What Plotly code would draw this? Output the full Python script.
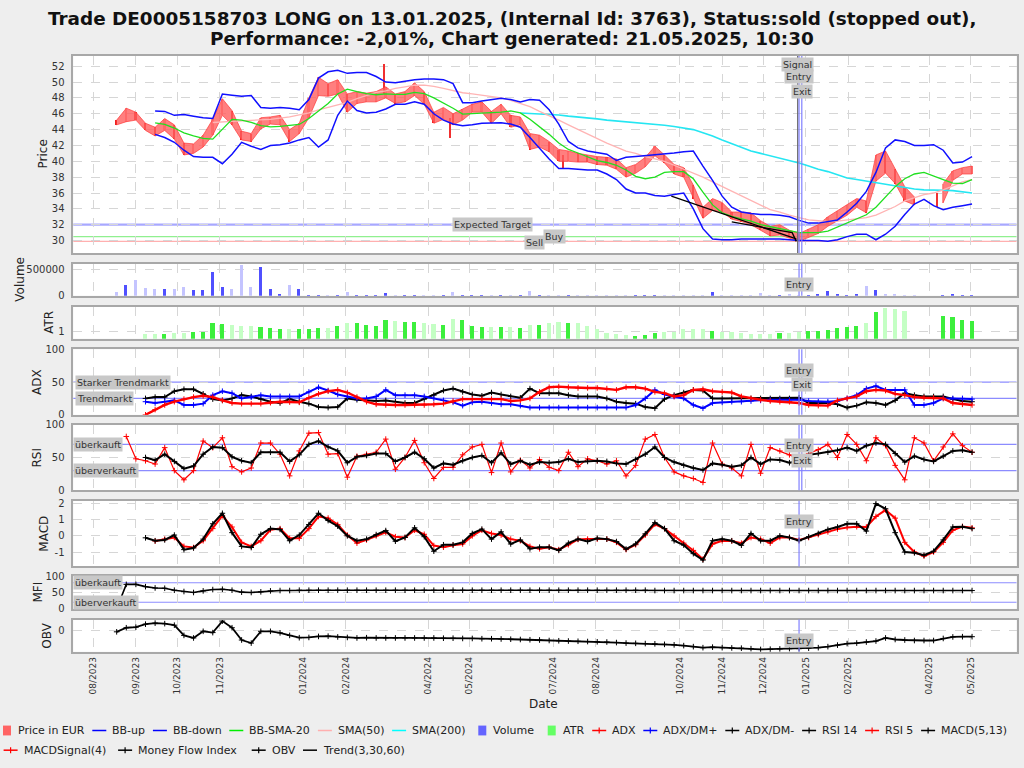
import plotly.graph_objects as go
import pandas as pd

# ------------------------------------------------------------------ data
# weekly samples (Fridays)
weeks = pd.date_range("2023-08-18", periods=90, freq="7D")

price_close = [
    44.9, 46.0, 45.5, 44.3, 43.8, 44.5, 43.5, 41.2, 41.7, 43.0,
    44.2, 47.3, 45.2, 43.2, 42.9, 45.0, 45.3, 45.3, 43.0, 44.3,
    47.5, 49.5, 49.0, 49.2, 47.0, 48.0, 48.0, 48.2, 48.8, 47.8,
    48.2, 49.2, 47.8, 45.5, 46.0, 45.0, 46.0, 46.7, 46.9, 45.6,
    46.7, 45.0, 45.2, 42.0, 42.6, 41.7, 40.5, 40.7, 40.4, 40.3,
    40.1, 40.0, 39.8, 38.6, 39.0, 39.8, 41.2, 40.3, 39.0, 38.6,
    36.0, 33.5, 34.6, 34.2, 33.2, 33.0, 32.7, 31.8, 31.2, 31.3,
    30.8, 30.4, 31.0, 31.5, 32.4, 33.2, 33.8, 34.8, 34.3, 39.8,
    39.5, 38.0, 35.8, 35.0, None, None, 36.5, 38.3, 38.8, 38.8]
price_lo = [
    44.6, 45.0, 45.2, 43.9, 43.2, 43.9, 42.8, 40.8, 41.0, 41.8,
    43.3, 45.8, 44.6, 42.7, 42.5, 44.1, 44.7, 44.6, 42.5, 43.5,
    45.5, 48.3, 48.2, 48.5, 46.2, 47.3, 47.5, 47.5, 48.0, 47.3,
    47.5, 48.3, 47.2, 44.8, 45.3, 44.6, 45.2, 46.2, 46.2, 44.8,
    46.0, 44.3, 44.6, 41.5, 41.8, 41.2, 40.0, 40.0, 39.9, 39.9,
    39.6, 39.5, 39.0, 38.0, 38.5, 39.3, 40.7, 39.8, 38.4, 38.0,
    35.3, 32.8, 33.8, 33.6, 32.7, 32.4, 32.0, 31.3, 30.6, 30.7,
    30.3, 29.9, 30.4, 30.9, 31.8, 32.5, 33.2, 34.2, 33.5, 37.5,
    38.5, 37.2, 35.0, 34.5, None, None, 34.8, 37.6, 38.4, 38.4]
price_hi = [
    45.2, 46.7, 46.2, 44.8, 44.3, 45.4, 44.6, 42.3, 42.2, 43.3,
    45.3, 47.9, 46.4, 43.8, 43.5, 45.5, 45.6, 45.8, 44.0, 44.8,
    48.0, 50.6, 49.8, 50.3, 48.5, 48.8, 48.6, 48.8, 49.4, 48.5,
    48.8, 49.9, 48.8, 46.2, 46.8, 46.0, 46.6, 47.2, 47.5, 46.3,
    47.2, 45.8, 45.6, 43.5, 43.3, 42.5, 41.5, 41.3, 41.0, 40.8,
    40.6, 40.5, 40.3, 39.2, 39.6, 40.5, 41.9, 40.8, 39.6, 39.2,
    37.0, 34.2, 35.3, 34.8, 33.6, 33.6, 33.5, 32.5, 31.8, 32.0,
    31.3, 30.9, 31.5, 32.0, 33.0, 33.8, 34.5, 35.3, 35.0, 40.8,
    41.3, 39.0, 36.8, 35.5, None, None, 37.2, 38.8, 39.2, 39.4]
# single-day wicks that stick out of the weekly range
spike_dates = ["2024-02-29", "2024-04-17", "2024-07-08", "2025-04-07"]
spike_lo = [48.5, 42.9, 39.0, 34.2]
spike_hi = [52.3, 45.5, 40.8, 36.0]

bb_up = [
    None, None, None, None, 46.35, 46.3, 45.8, 45.9, 45.7, 45.5,
    45.4, 48.5, 48.35, 48.2, 48.3, 46.8, 46.7, 46.8, 46.7, 46.5,
    47.8, 50.5, 51.3, 51.5, 51.1, 51.2, 51.2, 50.7, 50.0, 49.9,
    50.1, 50.3, 50.4, 50.4, 50.3, 49.8, 47.4, 47.4, 47.6, 47.8,
    47.95, 47.8, 47.5, 47.8, 47.7, 46.5, 44.7, 42.5, 41.7, 41.3,
    41.1, 40.9, 40.1, 40.5, 40.6, 40.7, 40.8, 40.9, 41.05, 41.2,
    41.3, 39.4, 37.6, 35.6, 34.2, 33.6, 33.4, 33.3, 33.3, 33.2,
    33.0, 32.55, 32.2, 32.2, 32.4, 32.6, 33.6, 34.7, 36.2, 38.6,
    41.7, 42.7, 42.5, 42.0, 42.0, 42.1, 41.4, 39.8, 39.9, 40.6]
bb_down = [
    None, None, None, None, 43.4, 43.0, 42.4, 41.4, 40.6, 40.5,
    40.5, 39.7, 40.9, 42.4, 41.9, 41.5, 42.0, 42.1, 42.3, 42.7,
    43.0, 41.8, 42.7, 45.8, 47.6, 46.4, 46.1, 46.2, 46.6, 47.2,
    47.2, 47.5, 47.2, 46.0, 45.2, 44.7, 44.5, 44.6, 44.8, 44.85,
    44.85, 44.7, 44.3, 43.0, 41.6, 40.3, 39.1, 39.1, 39.0, 38.9,
    38.9, 38.4, 37.7, 36.5, 36.0, 36.0, 35.7, 35.6, 35.8, 36.0,
    34.0, 31.5, 30.2, 30.1, 30.1, 30.2, 30.2, 30.2, 30.2, 30.2,
    30.1, 30.0, 30.0, 30.0, 29.9, 30.1, 30.5, 30.8, 30.8, 30.1,
    30.8, 31.8, 33.3, 34.6, 35.2, 34.4, 33.9, 34.2, 34.4, 34.6]
bb_mid = [
    None, None, None, None, 44.85, 44.65, 44.2, 43.6, 43.2, 42.9,
    42.8, 44.0, 45.3, 45.2, 44.9, 44.5, 44.35, 44.4, 44.5, 44.65,
    45.4, 46.3, 47.3, 48.5, 49.1, 48.8, 48.55, 48.4, 48.5, 48.45,
    48.45, 48.7, 48.55, 48.0, 47.4, 46.7, 45.95, 46.0, 46.1, 46.1,
    46.2, 46.35, 46.1, 45.3, 44.4, 43.4, 42.3, 41.5, 41.05, 40.6,
    40.1, 39.85, 39.5, 38.9, 38.1, 37.8, 38.0, 38.6, 38.7, 38.7,
    37.8, 36.1, 34.5, 33.5, 33.05, 32.75, 32.45, 32.0, 31.75, 31.5,
    31.2, 31.0, 31.0, 31.0, 31.2, 31.7, 32.2, 32.7, 33.25, 34.2,
    35.5, 36.8, 37.8, 38.4, 38.6, 38.2, 37.7, 37.25, 37.2, 37.7]
sma50 = [
    None, None, None, None, None, None, None, None, None, None,
    44.9, 45.0, 45.05, 45.1, 45.15, 45.2, 45.3, 45.45, 45.6, 45.85,
    46.1, 46.5, 46.8, 47.1, 47.45, 47.9, 48.3, 48.7, 48.9, 49.2,
    49.4, 49.6, 49.6, 49.45, 49.2, 48.9, 48.65, 48.5, 48.35, 48.15,
    48.0, 47.7, 47.3, 46.9, 46.3, 45.8, 45.2, 44.6, 44.0, 43.4,
    42.8, 42.3, 41.8, 41.3, 41.0, 40.6, 40.3, 40.0, 39.5, 39.0,
    38.6, 38.0, 37.4, 36.8, 36.2, 35.6, 35.1, 34.4, 33.9, 33.6,
    33.2, 32.9, 32.6, 32.5, 32.4, 32.45, 32.6, 32.75, 32.9, 33.2,
    33.7, 34.3, 35.0, 35.4, 35.8, 36.0, 36.4, 36.9, 37.4, 37.7]
sma200 = [None] * 42 + [
    46.1, 46.05, 46.0, 45.95, 45.85, 45.7, 45.6, 45.5,
    45.35, 45.2, 45.1, 45.0, 44.9, 44.8, 44.7, 44.55, 44.4, 44.2,
    44.0, 43.6, 43.2, 42.7, 42.2, 41.7, 41.3, 41.0, 40.7, 40.4,
    40.15, 39.8, 39.4, 39.0, 38.7, 38.3, 37.9, 37.7, 37.5, 37.3,
    37.1, 36.9, 36.7, 36.5, 36.4, 36.4, 36.35, 36.3, 36.15, 36.0]

trend_a_dates = ["2024-09-25", "2024-12-25"]
trend_a_vals = [35.6, 30.2]
trend_b_dates = ["2024-11-08", "2024-12-22", "2024-12-25"]
trend_b_vals = [32.35, 31.0, 29.9]

volume = [
    81000, 220000, 300000, 150000, 144000, 144000, 140000, 175000, 125000, 125000,
    456000, 175000, 130000, 600000, 175000, 562000, 130000, 37000, 206000, 144000,
    25000, 25000, 20000, 22000, 81000, 20000, 18000, 18000, 62000, 18000,
    15000, 20000, 20000, 18000, 20000, 81000, 20000, 18000, 20000, 18000,
    15000, 18000, 20000, 100000, 20000, 18000, 22000, 15000, 18000, 20000,
    15000, 18000, 22000, 20000, 15000, 18000, 25000, 20000, 18000, 20000,
    22000, 25000, 81000, 30000, 25000, 22000, 28000, 60000, 25000, 20000,
    35000, 30000, 25000, 40000, 100000, 35000, 30000, 45000, 194000, 112000,
    40000, 35000, 30000, 28000, None, None, 25000, 37000, 20000, 30000]
atr = [
    None, None, None, 0.89, 0.89, 0.91, 0.93, 0.93, 0.98, 0.98,
    1.32, 1.28, 1.25, 1.2, 1.18, 1.16, 1.13, 1.1, 1.07, 1.07,
    1.1, 1.12, 1.12, 1.2, 1.32, 1.3, 1.22, 1.2, 1.41, 1.38,
    1.34, 1.34, 1.32, 1.26, 1.25, 1.44, 1.4, 1.2, 1.17, 1.16,
    1.17, 1.15, 1.13, 1.23, 1.23, 1.3, 1.33, 1.32, 1.3, 1.2,
    1.1, 0.92, 0.88, 0.86, 0.82, 0.85, 0.95, 0.96, 0.98, 1.1,
    1.1, 1.1, 1.02, 0.98, 0.96, 0.92, 0.9, 0.9, 0.9, 0.94,
    0.95, 0.98, 1.01, 1.02, 1.04, 1.12, 1.16, 1.2, 1.3, 1.7,
    1.85, 1.82, 1.75, None, None, None, 1.56, 1.52, 1.42, 1.38]

adx = [
    None, None, None, 0, 8, 15, 20, 24, 27, 29,
    27, 22, 18, 17, 17, 17, 18.5, 20, 19.5, 19,
    26, 32, 36, 38, 34, 27, 20, 16, 15, 15,
    15, 15, 15, 16, 17, 21, 24, 24, 24, 24,
    24, 21, 22, 25, 35, 42, 43, 42, 41, 41,
    41, 40, 38, 42, 42, 40, 35, 33, 28, 30,
    38, 39, 36, 35, 34, 28, 25, 23, 21, 20,
    20, 18, 15, 14, 14, 22, 25, 28, 36, 38,
    37, 32, 30, 27, 26, 26, 25, 18, 16, 15]
dm_plus = [
    None, None, None, 20, 18, 20, 22, 15, 15, 17,
    30, 36, 33, 25, 27, 30, 28, 28, 28, 28,
    35, 42, 37, 31, 28, 25, 25, 28, 38, 30,
    30, 30, 28, 25, 22, 19, 14, 19, 20, 18,
    16, 16, 14, 11, 11, 11, 11, 11, 11, 11,
    11, 11, 11, 11, 15, 25, 38, 31, 28, 25,
    15, 10, 18, 19, 20, 20, 21, 22, 23, 23,
    23, 23, 21, 20, 20, 21, 25, 30, 40, 44,
    38, 38, 38, 15, 15, 18, 25, 25, 25, 24]
dm_minus = [
    None, None, None, 25, 27, 27, 36, 39, 39, 32,
    24, 22, 25, 30, 28, 24, 20, 18, 24, 20,
    17, 12, 11, 12, 25, 23, 22, 21, 22, 20,
    18, 18, 24, 30, 37, 40, 35, 31, 29, 34,
    31, 28, 26, 40, 33, 33, 33, 30, 28, 28,
    28, 25, 20, 18, 17, 12, 10, 24, 30, 34,
    38, 37, 25, 25, 25, 25, 25, 25, 25, 25,
    25, 26, 18, 18, 18, 16, 11, 14, 19, 18,
    15, 22, 33, 30, 28, 28, 28, 24, 21, 20]

rsi5 = [
    None, 82, 48, 45, 40, 65, 30, 16, 30, 75,
    65, 80, 36, 28, 34, 72, 72, 55, 22, 60,
    87, 88, 55, 56, 20, 52, 55, 58, 78, 32,
    50, 76, 42, 18, 35, 35, 54, 66, 70, 27,
    72, 28, 46, 34, 47, 35, 30, 58, 36, 48,
    45, 40, 45, 22, 38, 78, 85, 50, 28, 22,
    18, 12, 72, 40, 34, 22, 70, 26, 65, 60,
    54, 48, 56, 62, 70, 50, 85, 70, 45, 80,
    68, 38, 16, 80, 72, 45, 66, 86, 68, 58]
rsi14 = [
    None, None, None, 50, 46, 55, 44, 33, 37, 55,
    66, 65, 51, 45, 42, 58, 58, 58, 44, 54,
    70, 75, 66, 60, 42, 51, 53, 56, 56, 44,
    50, 58, 48, 34, 41, 39, 45, 50, 53, 42,
    57, 40, 45, 39, 43, 42, 43, 48, 43, 44,
    45, 44, 41, 40, 47, 55, 66, 50, 43, 38,
    34, 31, 41, 39, 36, 38, 50, 40, 47, 46,
    42, 45, 54, 56, 58, 61, 65, 60, 68, 72,
    70, 56, 43, 52, 47, 44, 52, 60, 61, 58]

macd = [
    None, None, None, -0.12, -0.3, -0.25, 0.05, -0.85, -0.75, -0.2,
    0.75, 1.4, 0.2, -0.65, -0.72, 0.1, 0.45, 0.4, -0.3, 0.05,
    0.7, 1.4, 0.95, 0.6, 0.0, -0.3, -0.2, 0.08, 0.33, -0.33,
    -0.1, 0.5, -0.05, -0.95, -0.55, -0.55, -0.4, 0.15, 0.42, -0.2,
    0.25, -0.5, -0.25, -0.8, -0.7, -0.7, -0.9, -0.45, -0.2, -0.35,
    -0.15, -0.2, -0.35, -0.82, -0.5, 0.13, 0.82, 0.45, -0.3, -0.57,
    -1.1, -1.5, -0.3, -0.2, -0.3, -0.58, 0.15, -0.3, -0.3, 0.0,
    -0.1, -0.3, -0.05, 0.15, 0.4, 0.55, 0.75, 0.75, 0.3, 2.0,
    1.68, 0.2, -1.0, -1.05, -1.2, -0.95, -0.25, 0.55, 0.57, 0.45]
macd_signal = [
    None, None, None, None, -0.32, -0.2, -0.1, -0.65, -0.72, -0.3,
    0.45, 1.25, 0.55, -0.4, -0.65, -0.3, 0.38, 0.45, -0.15, -0.15,
    0.45, 1.2, 1.1, 0.7, 0.05, -0.45, -0.25, 0.0, 0.22, -0.05,
    -0.1, 0.35, 0.1, -0.6, -0.7, -0.58, -0.5, 0.0, 0.35, 0.15,
    0.05, -0.2, -0.3, -0.65, -0.8, -0.7, -0.85, -0.55, -0.22, -0.2,
    -0.2, -0.2, -0.4, -0.85, -0.55, 0.05, 0.72, 0.45, 0.0, -0.45,
    -0.9, -1.45, -0.5, -0.3, -0.32, -0.45, -0.1, -0.2, -0.45, -0.1,
    -0.1, -0.25, -0.1, 0.08, 0.25, 0.42, 0.52, 0.57, 0.55, 1.2,
    1.6, 1.1, -0.4, -1.0, -1.25, -1.0, -0.4, 0.35, 0.58, 0.5]

mfi = [
    0, 75, 75, 68, 64, 63, 57, 53, 50, 55,
    59, 60, 57, 51, 50, 52, 55, 56, 56, 57,
    57, 57, 57, 57, 57, 57, 57, 57, 57, 57,
    57, 57, 57, 57, 57, 57, 57, 57, 57, 57,
    57, 57, 57, 57, 57, 57, 57, 57, 57, 57,
    57, 57, 57, 57, 57, 57, 56, 56, 56, 56,
    56, 56, 56, 56, 56, 56, 56, 56, 56, 56,
    56, 56, 56, 56, 56, 56, 56, 56, 56, 56,
    56, 56, 56, 56, 56, 56, 56, 56, 56, 56]
obv_mio = [
    -0.3, 0.5, 0.6, 1.2, 1.4, 1.3, 1.0, -1.0, -1.5, -0.2,
    -0.45, 1.8, 0.5, -1.9, -2.5, -0.2, -0.2, -0.5, -1.0, -1.45,
    -1.4, -1.2, -1.15, -1.3, -1.4, -1.5, -1.45, -1.5, -1.5, -1.5,
    -1.5, -1.5, -1.5, -1.5, -1.55, -1.55, -1.6, -1.6, -1.65, -1.65,
    -1.7, -1.75, -1.8, -1.85, -1.9, -2.0, -2.05, -2.1, -2.15, -2.2,
    -2.25, -2.3, -2.4, -2.5, -2.55, -2.6, -2.65, -2.75, -2.85, -3.0,
    -3.2, -3.4, -3.3, -3.4, -3.45, -3.5, -3.6, -3.75, -3.7, -3.65,
    -3.6, -3.6, -3.5, -3.4, -3.2, -2.9, -2.6, -2.5, -2.3, -2.1,
    -1.5, -1.8, -1.9, -2.0, -2.0, -2.0, -1.6, -1.3, -1.25, -1.25]

expected_target = 32.0
buy_level = 30.5
sell_level = 29.9
signal_date = "2024-12-26"
entry_date = "2024-12-27"
exit_date = "2024-12-29"

month_ticks = ["2023-08-01", "2023-09-01", "2023-10-01", "2023-11-01",
               "2024-01-01", "2024-02-01", "2024-04-01", "2024-05-01",
               "2024-07-01", "2024-08-01", "2024-10-01", "2024-11-01",
               "2024-12-01", "2025-01-01", "2025-02-01", "2025-04-01",
               "2025-05-01"]

title_1 = "Trade DE0005158703 LONG on 13.01.2025, (Internal Id: 3763), Status:sold (stopped out),"
title_2 = "Performance: -2,01%, Chart generated: 21.05.2025, 10:30"

# ------------------------------------------------------------------ layout helpers
FONT = "DejaVu Sans"
W, H = 1024, 768
XL, XR = 73.3, 1016.5
PANELS = [(50.7, 251.0), (261.7, 294.3), (305.7, 338.0), (348.7, 415.3),
          (425.3, 492.0), (502.7, 569.3), (579.3, 612.3), (623.3, 656.0)]
X_RANGE = ["2023-07-17 10:00", "2025-06-03 09:00"]
DAY_MS = 86400000


def fx(p):
    return p / W


def fy(p):
    return 1 - p / H


def ax(i):
    return ("x" if i == 1 else f"x{i}"), ("y" if i == 1 else f"y{i}")


fig = go.Figure()

# ------------------------------------------------------------------ price panel
up = []
p = None
for c in price_close:
    up.append(c is not None and p is not None and c >= p)
    if c is not None:
        p = c

# price range ribbon, one polygon per contiguous run of weeks
segments = []
cur = []
for d, lo, hi in zip(weeks, price_lo, price_hi):
    if lo is None or hi is None:
        if cur:
            segments.append(cur)
        cur = []
    else:
        cur.append((d, lo, hi))
if cur:
    segments.append(cur)
for seg in segments:
    xs = [s[0] for s in seg] + [s[0] for s in reversed(seg)]
    ys = [s[2] for s in seg] + [s[1] for s in reversed(seg)]
    fig.add_trace(go.Scatter(x=xs, y=ys, mode="lines", fill="toself",
                             fillcolor="rgba(255,95,95,0.80)",
                             line=dict(color="rgba(255,60,60,0.9)", width=0.8),
                             xaxis="x", yaxis="y", name="Price in EUR"))

rng = [None if (h is None or l is None) else h - l for h, l in zip(price_hi, price_lo)]
price_colors = ["#ff9090" if u else "#f01e1e" for u in up]
fig.add_trace(go.Bar(x=weeks, y=rng, base=price_lo, width=1.6 * DAY_MS,
                     marker=dict(color=price_colors, line=dict(width=0)),
                     xaxis="x", yaxis="y"))
fig.add_trace(go.Bar(x=spike_dates, y=[h - l for h, l in zip(spike_hi, spike_lo)], base=spike_lo,
                     width=0.8 * DAY_MS, marker=dict(color="#f03030", line=dict(width=0)),
                     xaxis="x", yaxis="y"))

for vals, col, wd in [(sma200, "#25e6f2", 1.6), (sma50, "#ffb4b4", 1.3),
                      (bb_mid, "#20e020", 1.3), (bb_up, "#1010ff", 1.5),
                      (bb_down, "#1010ff", 1.5)]:
    fig.add_trace(go.Scatter(x=weeks, y=vals, mode="lines", connectgaps=True,
                             line=dict(color=col, width=wd), xaxis="x", yaxis="y"))

for d, v in [(trend_a_dates, trend_a_vals), (trend_b_dates, trend_b_vals)]:
    fig.add_trace(go.Scatter(x=d, y=v, mode="lines", line=dict(color="black", width=1.3),
                             xaxis="x", yaxis="y"))

# ------------------------------------------------------------------ volume / ATR
vol_colors = ["#5050ff" if u else "#c4c4ff" for u in up]
atr_colors = ["#3cef3c" if u else "#c4ffc4" for u in up]

fig.add_trace(go.Bar(x=weeks, y=volume, marker=dict(color=vol_colors, line=dict(width=0)),
                     width=2.2 * DAY_MS, xaxis="x2", yaxis="y2"))
fig.add_trace(go.Bar(x=weeks, y=atr, base=0, marker=dict(color=atr_colors, line=dict(width=0)),
                     width=3.0 * DAY_MS, xaxis="x3", yaxis="y3"))


def marked(vals, col, axis_i, lw=1.8, ms=4):
    xa, ya = ax(axis_i)
    return go.Scatter(x=weeks, y=vals, mode="lines+markers", connectgaps=True,
                      line=dict(color=col, width=lw),
                      marker=dict(symbol="cross-thin", size=ms, line=dict(color=col, width=1)),
                      xaxis=xa, yaxis=ya)


fig.add_trace(marked(dm_minus, "black", 4, 2.0))
fig.add_trace(marked(dm_plus, "#0000ff", 4, 2.0))
fig.add_trace(marked(adx, "#ff0000", 4, 2.4))
fig.add_trace(marked(rsi5, "#ff0000", 5, 1.2))
fig.add_trace(marked(rsi14, "black", 5, 2.0))
fig.add_trace(marked(macd_signal, "#ff0000", 6, 2.0))
fig.add_trace(marked(macd, "black", 6, 2.0))
fig.add_trace(marked(mfi, "black", 7, 1.6))
fig.add_trace(marked(obv_mio, "black", 8, 1.8))

# ------------------------------------------------------------------ axes
y_specs = {
    1: dict(range=[28.42, 53.3], dtick=2, tick0=0),
    2: dict(range=[0, 613000], dtick=500000, tick0=0, tickformat="d"),
    3: dict(range=[0.72, 1.9], dtick=1, tick0=0),
    4: dict(range=[0, 100], dtick=50, tick0=0),
    5: dict(range=[0, 100], dtick=50, tick0=0),
    6: dict(range=[-1.89, 2.17], tickvals=[-1, 0, 1, 2], ticktext=["-1", "0", "1", "2"]),
    7: dict(range=[0, 100], dtick=50, tick0=0),
    8: dict(range=[-4.2, 2.1], tickvals=[0], ticktext=["0"]),
}

layout = dict(width=W, height=H, margin=dict(l=0, r=0, t=0, b=0, pad=0),
              paper_bgcolor="#eeeeee", plot_bgcolor="white", showlegend=False,
              font=dict(family=FONT, size=10, color="#333333"), bargap=0)

for i, (top, bot) in enumerate(PANELS, start=1):
    xn, yn = ax(i)
    xkey = "xaxis" if i == 1 else f"xaxis{i}"
    ykey = "yaxis" if i == 1 else f"yaxis{i}"
    xa = dict(domain=[fx(XL), fx(XR)], anchor=yn, type="date", range=X_RANGE,
              tickvals=month_ticks, tickformat="%m/%Y", tickangle=-90,
              showticklabels=(i == 8), ticks="", tickfont=dict(size=9, color="#333"),
              showgrid=True, gridcolor="#d6d6d6", griddash="dash", gridwidth=1,
              showline=True, mirror=True, linecolor="#a8a8a8", linewidth=1.5,
              zeroline=False, fixedrange=True)
    if i > 1:
        xa["matches"] = "x"
    layout[xkey] = xa
    ya = dict(domain=[fy(bot), fy(top)], anchor=xn, ticks="", ticklabelstandoff=5,
              tickfont=dict(size=10, color="#333"), showgrid=True, gridcolor="#d6d6d6",
              griddash="dash", gridwidth=1, showline=True, mirror=True,
              linecolor="#a8a8a8", linewidth=1.5, zeroline=False, fixedrange=True)
    ya.update(y_specs[i])
    layout[ykey] = ya

fig.update_layout(**layout)

# ------------------------------------------------------------------ shapes
shapes = []


def hline(axis_i, val, col, wd):
    xn, yn = ax(axis_i)
    shapes.append(dict(type="line", xref=f"{xn} domain", x0=0, x1=1, yref=yn, y0=val, y1=val,
                       line=dict(color=col, width=wd), layer="below"))


hline(1, expected_target, "#a8a8ff", 2.2)
hline(1, buy_level, "#90f090", 1.4)
hline(1, sell_level, "#ffb0b0", 1.4)
hline(4, 50, "#8c8cff", 1.2)
hline(4, 25, "#8c8cff", 1.2)
hline(5, 70, "#8c8cff", 1.2)
hline(5, 30, "#8c8cff", 1.2)
hline(7, 80, "#8c8cff", 1.2)
hline(7, 20, "#8c8cff", 1.2)


def vline(axis_i, date, col, wd=1.2):
    xn, yn = ax(axis_i)
    shapes.append(dict(type="line", xref=xn, x0=date, x1=date, yref=f"{yn} domain", y0=0, y1=1,
                       line=dict(color=col, width=wd), layer="above"))


vline(1, signal_date, "#707070", 1.3)
vline(1, entry_date, "#8080ff")
vline(1, exit_date, "#8080ff")
for i in (2, 4, 5):
    vline(i, entry_date, "#8080ff")
    vline(i, exit_date, "#8080ff")
for i in (6, 8):
    vline(i, entry_date, "#8080ff")

# ------------------------------------------------------------------ annotations
ann = []
LBL = dict(showarrow=False, bgcolor="#c8c8c8", borderpad=1, font=dict(size=9.5, color="#333"))


def label(text, xref, x, yref, y, xanchor="center"):
    d = dict(text=text, xref=xref, x=x, yref=yref, y=y, xanchor=xanchor, yanchor="middle")
    d.update(LBL)
    ann.append(d)


label("Expected Target", "x", "2024-05-18", "y", expected_target)
label("Buy", "x", "2024-07-02", "y", buy_level + 0.05)
label("Sell", "x", "2024-06-17", "y", sell_level - 0.1)
label("Signal", "x", signal_date, "y domain", 0.957)
label("Entry", "x", entry_date, "y domain", 0.894)
label("Exit", "x", exit_date, "y domain", 0.82)
label("Entry", "x2", entry_date, "y2 domain", 0.36)
label("Entry", "x4", entry_date, "y4 domain", 0.68)
label("Exit", "x4", exit_date, "y4 domain", 0.455)
label("Entry", "x5", entry_date, "y5 domain", 0.69)
label("Exit", "x5", exit_date, "y5 domain", 0.455)
label("Entry", "x6", entry_date, "y6 domain", 0.685)
label("Entry", "x8", entry_date, "y8 domain", 0.36)
label("Starker Trendmarkt", "x4 domain", 0.002, "y4", 50, "left")
label("Trendmarkt", "x4 domain", 0.002, "y4", 25, "left")
label("überkauft", "x5 domain", 0.0, "y5", 70, "left")
label("überverkauft", "x5 domain", 0.0, "y5", 30, "left")
label("überkauft", "x7 domain", 0.0, "y7", 80, "left")
label("überverkauft", "x7 domain", 0.0, "y7", 20, "left")

for text, px, i in [("Price", 43, 1), ("Volume", 20, 2), ("ATR", 49, 3), ("ADX", 37, 4),
                    ("RSI", 37, 5), ("MACD", 44, 6), ("MFI", 38, 7), ("OBV", 47, 8)]:
    top, bot = PANELS[i - 1]
    ann.append(dict(text=text, xref="paper", x=fx(px), yref="paper", y=fy((top + bot) / 2),
                    xanchor="center", yanchor="middle", textangle=-90, showarrow=False,
                    font=dict(size=12, color="#222")))

ann.append(dict(text="Date", xref="paper", x=fx(543.5), yref="paper", y=fy(709),
                xanchor="center", yanchor="middle", showarrow=False,
                font=dict(size=12, color="#222")))

for text, py in [(title_1, 12.5), (title_2, 33.5)]:
    ann.append(dict(text=f"<b>{text}</b>", xref="paper", x=0.5, yref="paper", y=fy(py),
                    xanchor="center", yanchor="middle", showarrow=False,
                    font=dict(size=18.4, color="#111", family=FONT)))

# manual legend: (label, symbol, colour, text start px, row centre px)
legend_items = [
    ("Price in EUR", "square", "#ff6464", 16.0, 736),
    ("BB-up", "line", "#0000ff", 110.3, 736),
    ("BB-down", "line", "#0000ff", 170.9, 736),
    ("BB-SMA-20", "line", "#00ee00", 247.3, 736),
    ("SMA(50)", "line", "#ffafaf", 335.9, 736),
    ("SMA(200)", "line", "#00ffff", 410.1, 736),
    ("Volume", "square", "#6464ff", 491.3, 736),
    ("ATR", "square", "#64ff64", 560.7, 736),
    ("ADX", "plus", "#ff0000", 610.2, 736),
    ("ADX/DM+", "plus", "#0000ff", 661.3, 736),
    ("ADX/DM-", "plus", "#000000", 743.3, 736),
    ("RSI 14", "plus", "#000000", 820.1, 736),
    ("RSI 5", "plus", "#ff0000", 883.1, 736),
    ("MACD(5,13)", "plus", "#000000", 939.1, 736),
    ("MACDSignal(4)", "plus", "#ff0000", 21.6, 756),
    ("Money Flow Index", "plus", "#000000", 136.1, 756),
    ("OBV", "plus", "#000000", 269.7, 756),
    ("Trend(3,30,60)", "line", "#000000", 321.0, 756),
]
for text, kind, col, tx, ty in legend_items:
    if kind == "square":
        shapes.append(dict(type="rect", xref="paper", yref="paper",
                           x0=fx(tx - 13), x1=fx(tx - 5), y0=fy(ty + 5), y1=fy(ty - 5),
                           fillcolor=col, line=dict(width=0)))
    else:
        shapes.append(dict(type="line", xref="paper", yref="paper",
                           x0=fx(tx - 18), x1=fx(tx - 4), y0=fy(ty), y1=fy(ty),
                           line=dict(color=col, width=1.5)))
        if kind == "plus":
            shapes.append(dict(type="line", xref="paper", yref="paper",
                               x0=fx(tx - 11), x1=fx(tx - 11), y0=fy(ty - 3), y1=fy(ty + 3),
                               line=dict(color=col, width=1.2)))
    ann.append(dict(text=text, xref="paper", x=fx(tx), yref="paper", y=fy(ty),
                    xanchor="left", yanchor="middle", showarrow=False,
                    font=dict(size=11, color="#222")))

fig.update_layout(shapes=shapes, annotations=ann)
fig.write_html("out.html", config={"displayModeBar": False},
               post_script="document.body.style.margin='0';document.body.style.overflow='hidden';")
